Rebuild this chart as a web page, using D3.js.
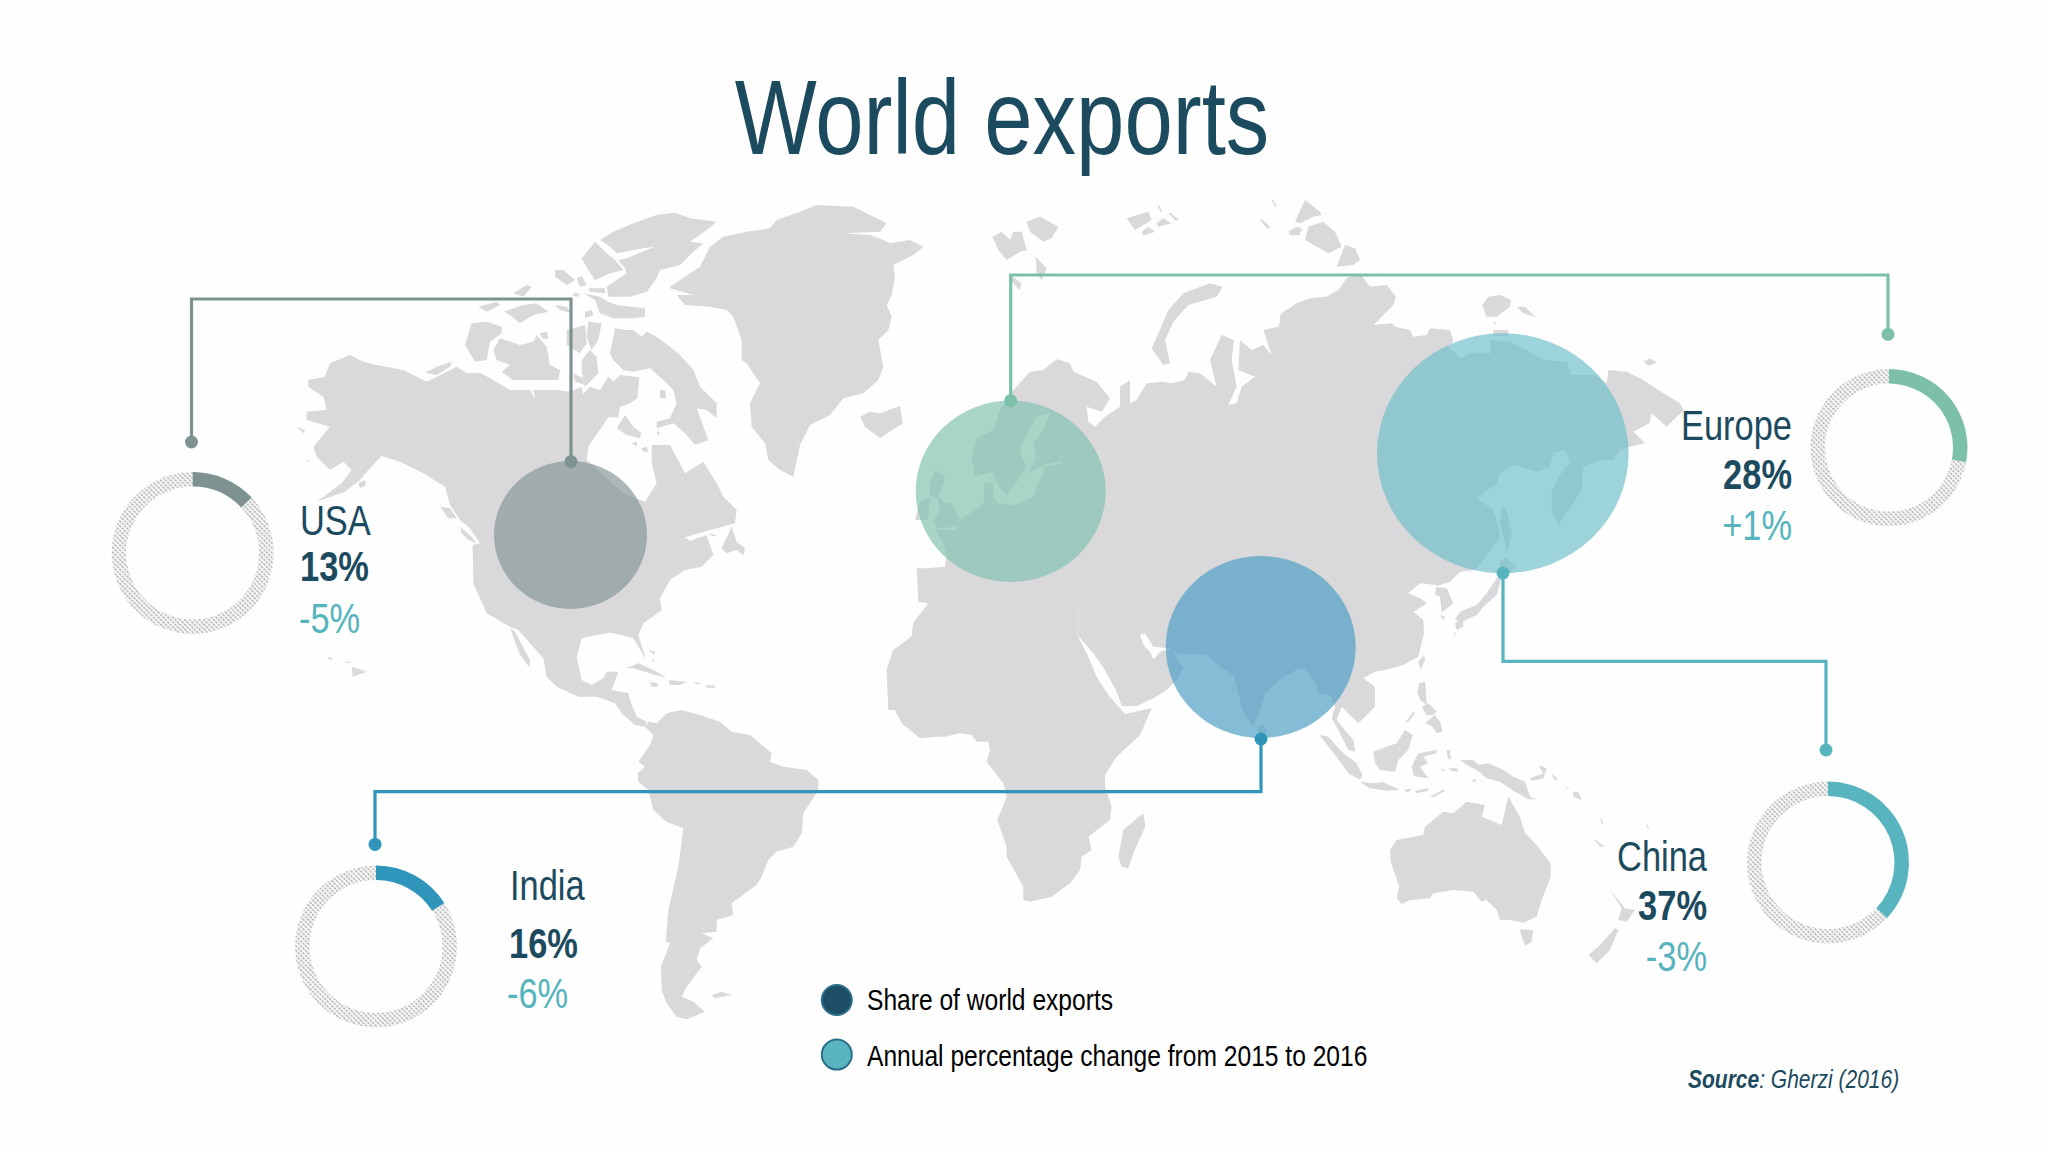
<!DOCTYPE html>
<html><head><meta charset="utf-8">
<script src="https://cdn.jsdelivr.net/npm/d3@7"></script>
<style>html,body{margin:0;padding:0;background:#fff}svg{display:block}text{font-family:"Liberation Sans",Arial,sans-serif}</style>
</head><body><svg id="c" width="2048" height="1152"></svg>
<script>
// ---- chart values ----
const regions = ["USA", "Europe", "China", "India"];
const shareOfExports = [13, 28, 37, 16];
const annualChange = ["-5%", "+1%", "-3%", "-6%"];
const legendLabels = ["Share of world exports", "Annual percentage change from 2015 to 2016"];
const titleText = "World exports";

// ---- layout (pixels) ----
const colours = ["#7d9291", "#7cc0ac", "#58b5bf", "#2f95ba"];
const bubbleFill = ["#879798", "#82c2b1", "#71bfc9", "#4e9ec4"];
const bubbleCx = [570.5, 1010.7, 1502.8, 1260.7];
const bubbleCy = [535, 491.3, 453.3, 647];
const bubbleRx = [76.5, 95, 125.8, 95];
const bubbleRy = [74, 90.7, 120, 91];
const donutCx = [192.7, 1889, 1828, 376];
const donutCy = [553, 447.6, 862.5, 946.5];
const donutR = [81, 78.5, 81, 81];
const leaderX = [[191.5, 191.5, 571, 571], [1010.7, 1010.7, 1888, 1888], [1503, 1503, 1826, 1826], [1261, 1261, 375, 375]];
const leaderY = [[442, 299, 299, 461.7], [400.7, 275, 275, 334.3], [573, 661.3, 661.3, 750], [739, 791.7, 791.7, 844.4]];
const labelX = [300, 1792, 1707, 510];
const labelShareX = [300, 1792, 1707, 509];
const labelChangeX = [299, 1792, 1707, 507];
const labelAnchor = ["start", "end", "end", "start"];
const labelNameY = [535, 440, 870.5, 900];
const labelShareY = [581, 489, 920, 957.7];
const labelChangeY = [633, 540, 971, 1008];
const narrow = 0.82;

// ---- land outlines, one list per tracing sheet ----
const sheetNorthAmerica = [
[85,570,135,560,150,520,210,495,250,515,290,525,370,540,440,575,470,560,530,530,560,550,600,548,640,570,690,600,750,600,765,628,760,600,830,600,870,605,905,590,910,612,930,590,960,600,985,560,1000,575,1020,555,1078,562,1072,625,1050,640,1020,650,1015,682,985,682,925,770,920,810,1030,910,1095,935,1130,880,1115,820,1115,765,1170,765,1215,850,1270,815,1310,880,1330,920,1370,960,1365,1000,1310,1015,1215,1042,1230,1052,1280,1035,1300,1095,1265,1130,1215,1140,1170,1170,1140,1225,1145,1260,1090,1300,1075,1335,1098,1408,1060,1345,1025,1335,990,1328,950,1335,905,1345,890,1400,905,1470,935,1485,970,1465,980,1445,1015,1445,995,1500,1045,1510,1055,1545,1070,1580,1100,1595,1095,1610,1065,1605,1025,1570,1005,1540,950,1520,895,1520,830,1490,800,1460,790,1405,715,1320,690,1310,620,1270,580,1180,578,1065,600,1060,570,1015,540,990,510,945,495,890,430,850,360,815,305,798,265,840,240,870,195,905,110,935,185,880,215,840,190,815,150,840,110,800,100,770,150,710,80,690,80,665,140,660,130,620,85,590],
[435,548,470,530,515,515,510,530,470,555],
[640,480,660,445,720,465,760,455,770,435,800,470,810,525,840,540,835,570,780,570,700,570,665,545,690,525,650,510],
[555,465,575,400,620,395,665,410,665,430,630,455,620,510,585,515],
[595,350,650,335,660,345,620,365],[672,365,730,345,770,340,805,365,760,375,720,400,690,375],
[825,345,860,350,875,370,840,360],[700,310,740,285,755,290,730,320],[778,430,800,425,805,445,790,448],
[860,420,915,405,920,460,900,490,860,465],[925,395,965,400,955,450,935,480,920,440],
[905,510,930,480,950,500,955,550,915,590,905,540],[880,550,910,565,915,585,885,575],[915,365,935,360,940,375,915,385],
[990,490,1005,415,1040,420,1060,420,1085,440,1100,425,1130,440,1170,470,1200,495,1240,540,1260,590,1310,640,1310,685,1280,660,1250,655,1285,750,1245,765,1215,730,1180,700,1130,715,1130,695,1170,685,1190,640,1180,600,1150,570,1110,535,1060,545,1030,540,1000,510],
[1010,715,1035,675,1060,710,1085,730,1080,745,1040,735],[1055,760,1070,755,1072,770],[1085,775,1100,770,1105,785,1090,785],[1130,725,1140,725,1135,738],
[1140,600,1155,600,1158,625,1140,625],
[960,150,1000,125,1060,100,1130,75,1185,68,1230,85,1310,95,1280,120,1230,155,1270,160,1240,185,1200,225,1140,240,1130,265,1100,305,1050,320,985,320,980,290,1010,270,1040,250,1035,235,1015,210,1040,205,1100,180,1125,170,1090,175,1010,190,990,170],
[905,205,945,155,980,190,1005,210,1030,240,990,250,945,270,925,240],
[825,240,850,240,885,270,860,285,825,260],[890,265,905,258,920,285,900,290],
[910,310,960,320,985,335,1010,345,1095,355,1095,380,1060,385,1000,385,960,370,945,330],
[925,295,975,295,975,310,930,305],[985,290,1010,300,985,310],[880,310,900,310,895,320,880,318],
// Greenland
[1170,290,1260,230,1290,170,1330,140,1400,125,1470,115,1490,90,1560,65,1610,45,1720,50,1770,75,1820,100,1800,125,1690,130,1770,135,1810,150,1830,160,1890,150,1930,170,1900,195,1840,225,1845,260,1835,315,1820,345,1835,380,1825,420,1795,450,1810,530,1795,570,1750,610,1690,625,1650,675,1590,705,1560,765,1540,860,1500,840,1465,810,1455,760,1415,710,1410,640,1440,580,1400,520,1385,510,1385,450,1360,380,1340,360,1290,350,1215,345,1190,315,1240,315,1170,295],
// Caribbean and Atlantic islands
[1040,1435,1075,1420,1130,1445,1160,1465,1110,1450,1060,1435],[1165,1470,1220,1475,1200,1485,1170,1485],[1110,1475,1135,1480,1130,1490,1115,1490],[1240,1475,1265,1480,1250,1483],[1280,1485,1305,1487,1305,1493,1280,1493],[1105,1380,1125,1385,1125,1395],[1115,1405,1125,1415,1118,1415],
[1325,1075,1355,1010,1370,1055,1395,1075,1390,1095,1370,1080,1340,1090],[1285,1030,1310,1035,1300,1040],
// Pacific coast islands
[480,950,510,955,530,985,505,985],[540,1010,575,1040,590,1060,565,1050,545,1030],[235,880,255,870,258,885,240,895],[50,710,75,720,70,730],[78,810,88,812,84,816],
[140,1400,160,1405,150,1410],[190,1415,215,1415,205,1420],[215,1430,260,1445,218,1460],
[690,1315,705,1325,750,1410,748,1432,720,1395]
];
const sheetEurope = [
[700,600,750,545,790,540,830,508,870,520,880,545,950,575,990,625,965,665,920,650,925,695,945,710,975,680,1020,650,1020,590,1050,570,1050,640,1070,630,1100,580,1145,575,1175,580,1215,570,1225,545,1260,550,1310,590,1290,510,1325,435,1362,450,1355,510,1370,590,1345,645,1370,640,1385,590,1425,560,1375,540,1380,450,1415,480,1450,465,1475,495,1450,420,1495,410,1510,365,1560,340,1560,1250,800,1250,640,1560,325,1560,320,1440,340,1380,395,1340,400,1300,445,1240,415,1235,410,1135,440,1135,495,1130,500,1100,490,1060,465,1020,530,1020,540,990,600,950,612,935,612,880,640,880,640,925,655,940,700,945,760,920,770,890,785,860,795,830,850,818,845,812,790,825,745,850,770,800,760,760,790,720,810,670,770,680,720,770,725,800,740,830,715,870,680,915,650,880,640,845,585,860,575,800,590,745,640,720,660,660],
[450,880,465,840,495,860,490,880,475,915,490,935,515,940,540,985,530,1010,470,1015,460,990,480,960,470,925,450,915],
[405,990,420,935,450,925,445,990],
[240,680,270,665,300,670,360,648,368,700,300,745,255,710],
[637,140,665,125,690,150,700,125,725,125,740,180,765,175,720,185,680,210,655,180],
[740,95,780,80,835,110,815,145,790,155,750,125],[767,200,800,235,785,270,770,250],[692,255,725,280,718,300,695,275],
[1040,85,1105,65,1115,90,1065,120],[1130,100,1150,85,1175,100,1135,110],[1085,125,1105,110,1125,125,1090,137],[1133,48,1138,46,1146,65,1142,67],[1165,70,1172,68,1197,90,1187,92],[1475,30,1480,30,1490,50,1486,52],[1440,90,1446,88,1472,112,1462,116],[1525,130,1560,110,1560,135,1530,135],
[1115,475,1135,430,1165,360,1210,310,1290,280,1328,290,1310,320,1225,345,1180,395,1155,450,1170,520,1150,525]
];
const sheetAsia = [
[0,375,50,340,90,325,140,320,175,300,200,265,240,250,270,290,320,285,348,320,340,345,280,405,335,400,345,410,390,420,400,440,440,435,450,415,510,420,520,455,505,470,540,505,575,490,632,490,630,450,685,455,740,480,790,510,860,515,875,555,945,555,980,580,985,540,1040,545,1090,570,1135,600,1200,640,1212,662,1190,680,1160,710,1115,670,1108,700,1060,725,1095,760,1050,770,1020,780,1000,810,960,810,910,830,905,900,860,970,835,1005,815,960,815,900,850,840,918,762,870,815,855,780,820,790,810,830,770,845,700,825,660,850,650,880,590,925,640,960,655,1010,660,1040,625,1090,585,1140,540,1145,510,1175,465,1190,500,1195,520,1240,485,1268,480,1220,465,1215,470,1185,420,1180,385,1210,420,1225,440,1240,400,1265,430,1310,425,1360,200,1360,0,1360],
[75,30,120,65,125,75,100,80,60,100,45,95],[25,125,50,110,70,120,40,138],[85,110,130,95,165,125,185,170,145,190,75,150],[170,230,195,165,225,175,240,210,220,225],
[607,345,625,320,660,315,693,330,690,350,650,380,620,380],[710,350,735,350,765,380,730,370],[640,395,650,400,645,405],[640,420,685,420,685,438,640,438],[1090,515,1110,505,1130,518,1105,527],
[665,1160,650,1215,610,1250,590,1275,545,1295,525,1290,540,1265,590,1245,620,1210,640,1180,660,1150],[525,1300,550,1285,550,1310,530,1320],[518,1340,525,1325,528,1330],[660,1110,680,1105,710,1130,690,1150,660,1145],
[668,945,680,960,695,1030,683,1090,670,1040,660,1000],[480,1275,495,1280,490,1290]
];
const sheetSouthAmerica = [
[435,320,460,345,450,375,415,425,435,440,413,460,415,485,445,510,460,570,500,605,550,625,535,740,505,870,497,965,510,970,483,1040,485,1110,500,1150,530,1190,560,1198,580,1190,615,1175,580,1145,545,1130,560,1100,605,1040,590,1020,600,985,640,955,605,940,650,935,650,900,700,885,695,850,735,820,770,795,785,770,805,720,830,695,880,680,905,640,910,580,955,510,955,480,920,450,850,440,810,425,815,400,750,345,695,335,660,305,600,285,545,270,500,280,470,310,445,305],
[635,1125,665,1115,695,1125,645,1135]
];
const sheetAfrica = [
[205,10,160,70,155,110,100,150,80,210,85,290,125,370,180,415,230,410,255,410,300,400,335,405,350,425,385,425,390,450,380,485,430,550,440,590,412,660,440,740,440,770,490,860,490,900,510,905,575,890,630,850,660,810,665,770,695,750,685,710,750,660,755,620,735,560,735,525,770,470,840,405,875,325,795,342,780,325,745,285,710,230,685,170,655,110,655,-40,300,-40],
[655,108,700,160,735,210,770,275,785,318,830,318,880,295,920,270,950,240,970,205,935,150,905,152,880,178,870,155,850,135,840,105,855,100,880,140,925,145,950,160,1040,165,1080,200,1120,225,1150,340,1180,380,1200,330,1215,280,1270,230,1320,205,1335,205,1370,250,1375,280,1410,285,1430,320,1430,-40,655,-40],
[775,770,790,690,825,660,850,640,856,680,820,760,805,805,785,800],
[1190,390,1205,370,1220,390,1215,410]
];
const sheetOceania = [
[0,205,60,205,75,205,110,250,115,280,150,285,165,320,155,355,175,390,205,450,225,455,220,420,190,385,170,360,185,320,235,370,285,320,285,260,250,235,285,215,315,210,370,195,415,170,432,100,430,60,400,35,440,10,420,-5,0,-5],
[118,405,145,410,190,460,230,490,247,525,240,540,205,520,170,470],
[280,455,320,440,350,430,375,390,398,405,385,450,355,480,345,515,300,510,285,490],
[395,500,415,460,470,450,470,460,430,470,445,490,420,500,445,535,410,530,400,525],
[240,545,280,550,310,547,360,570,320,572,270,565],[372,570,395,565,385,578],[405,572,445,565,445,572,410,580],[405,585,415,590,420,595],[450,590,490,568,495,572,460,592],
[412,275,418,250,435,245,438,280,440,315,420,300],[435,370,465,345,482,370,487,395,470,400,455,378],[425,320,445,310,470,335,460,345,440,345],[375,368,400,335,405,340,385,365],[415,185,432,165,435,180,422,208],
[500,450,510,450,512,480,503,475],[480,505,498,510,490,513],[505,505,530,505,537,515,515,512],[575,540,588,537,585,548],
[540,480,580,480,595,495,625,490,670,510,700,530,735,545,750,590,772,598,745,598,705,575,660,545,620,535,590,510,560,495],
[750,535,790,520,775,495,800,505,790,535,755,542],[815,520,830,535,832,545,820,535],[850,552,870,570,860,565],[880,575,895,575,905,600,880,590],[960,650,970,670,965,672],[1095,665,1108,685,1102,685],[940,715,975,740,960,740],
[330,750,350,720,430,705,435,680,490,635,520,640,560,605,615,615,605,650,665,675,685,590,720,650,735,700,770,735,812,790,812,830,785,900,770,950,730,968,690,960,660,960,650,930,620,900,605,905,580,875,520,870,460,880,450,895,390,900,365,912,350,895,358,860,332,785],
[718,988,760,990,755,1025,735,1037],
[990,870,1035,925,1065,930,1040,965,1015,960,1025,925],[925,1065,955,1040,1005,985,1015,990,990,1050,950,1090]
];
const sheets = [sheetNorthAmerica, sheetEurope, sheetAsia, sheetSouthAmerica, sheetAfrica, sheetOceania];
const sheetOriginX = [280, 780, 1280, 500, 860, 1280];
const sheetOriginY = [190, 190, 190, 620, 600, 600];

// ---- drawing ----
const svg = d3.select("#c");
svg.append("rect").attr("width", 2048).attr("height", 1152).attr("fill", "#fefefe");

const defs = svg.append("defs");
const pat = defs.append("pattern").attr("id", "hatch").attr("patternUnits", "userSpaceOnUse")
  .attr("width", 3.4).attr("height", 3.4).attr("patternTransform", "rotate(45)");
pat.append("rect").attr("width", 3.4).attr("height", 3.4).attr("fill", "#f6f6f6");
pat.append("line").attr("x1", 0).attr("y1", 1.7).attr("x2", 3.4).attr("y2", 1.7)
  .attr("stroke", "#a0a0a0").attr("stroke-width", 1.1).attr("stroke-dasharray", "2.4 1");

const toRing = flat => {
  const ring = d3.range(0, flat.length, 2).map(i => [flat[i], flat[i + 1]]);
  ring.push(ring[0]);
  return ring;
};
const landG = svg.append("g").attr("fill", "#d9d8da");
sheets.forEach((sheet, i) => {
  const path = d3.geoPath(d3.geoIdentity().scale(1 / 3).translate([sheetOriginX[i], sheetOriginY[i]]));
  landG.append("g").selectAll("path").data(sheet).join("path")
    .attr("d", flat => path({type: "Polygon", coordinates: [toRing(flat)]}));
});

// bubbles
svg.append("g").selectAll("ellipse").data(regions).join("ellipse")
  .attr("cx", (d, i) => bubbleCx[i]).attr("cy", (d, i) => bubbleCy[i])
  .attr("rx", (d, i) => bubbleRx[i]).attr("ry", (d, i) => bubbleRy[i])
  .attr("fill", (d, i) => bubbleFill[i]).attr("fill-opacity", 0.69);

// leaders and their end dots
const leader = d3.line();
regions.forEach((r, i) => {
  const pts = d3.zip(leaderX[i], leaderY[i]);
  svg.append("path").attr("d", leader(pts)).attr("fill", "none")
    .attr("stroke", colours[i]).attr("stroke-width", 3.2);
  [pts[0], pts[3]].forEach(p => svg.append("circle").attr("cx", p[0]).attr("cy", p[1]).attr("r", 6.5).attr("fill", colours[i]));
});

// donuts
const pie = d3.pie().sort(null);
regions.forEach((r, i) => {
  const arcs = pie([shareOfExports[i], 100 - shareOfExports[i]]);
  const arc = d3.arc().innerRadius(donutR[i] - 14.5).outerRadius(donutR[i]);
  const g = svg.append("g").attr("transform", `translate(${donutCx[i]},${donutCy[i]})`);
  g.append("path").attr("d", arc(arcs[1])).attr("fill", "url(#hatch)");
  g.append("path").attr("d", arc(arcs[0])).attr("fill", colours[i]);
});

// labels: condensed faces are drawn by narrowing the text horizontally
const ink = "#1c4a5e", change = "#55b4bd";
const put = (x, y, k = narrow) => `translate(${x},${y}) scale(${k},1)`;
svg.append("text").attr("transform", put(1002, 154)).attr("text-anchor", "middle")
  .attr("font-size", 106).attr("fill", ink).text(titleText);
regions.forEach((r, i) => {
  svg.append("text").attr("transform", put(labelX[i], labelNameY[i])).attr("text-anchor", labelAnchor[i])
    .attr("font-size", 42).attr("fill", ink).text(r);
  svg.append("text").attr("transform", put(labelShareX[i], labelShareY[i])).attr("text-anchor", labelAnchor[i])
    .attr("font-size", 42).attr("font-weight", 700).attr("fill", ink).text(shareOfExports[i] + "%");
  svg.append("text").attr("transform", put(labelChangeX[i], labelChangeY[i])).attr("text-anchor", labelAnchor[i])
    .attr("font-size", 42).attr("fill", change).text(annualChange[i]);
});

// legend
const legendFill = ["#1c4e66", "#58b5bf"];
const legendY = [1000, 1054.6];
const legendBase = [1010, 1066];
legendLabels.forEach((t, i) => {
  svg.append("circle").attr("cx", 836.8).attr("cy", legendY[i]).attr("r", 15)
    .attr("fill", legendFill[i]).attr("stroke", "#2a6f8c").attr("stroke-width", 2);
  svg.append("text").attr("transform", put(867, legendBase[i])).attr("font-size", 30).attr("fill", "#000").text(t);
});

// source
const src = svg.append("text").attr("transform", put(1688, 1087.5, 0.84)).attr("font-size", 25).attr("font-style", "italic").attr("fill", ink);
src.append("tspan").attr("font-weight", 700).text("Source");
src.append("tspan").text(": Gherzi (2016)");
</script></body></html>
